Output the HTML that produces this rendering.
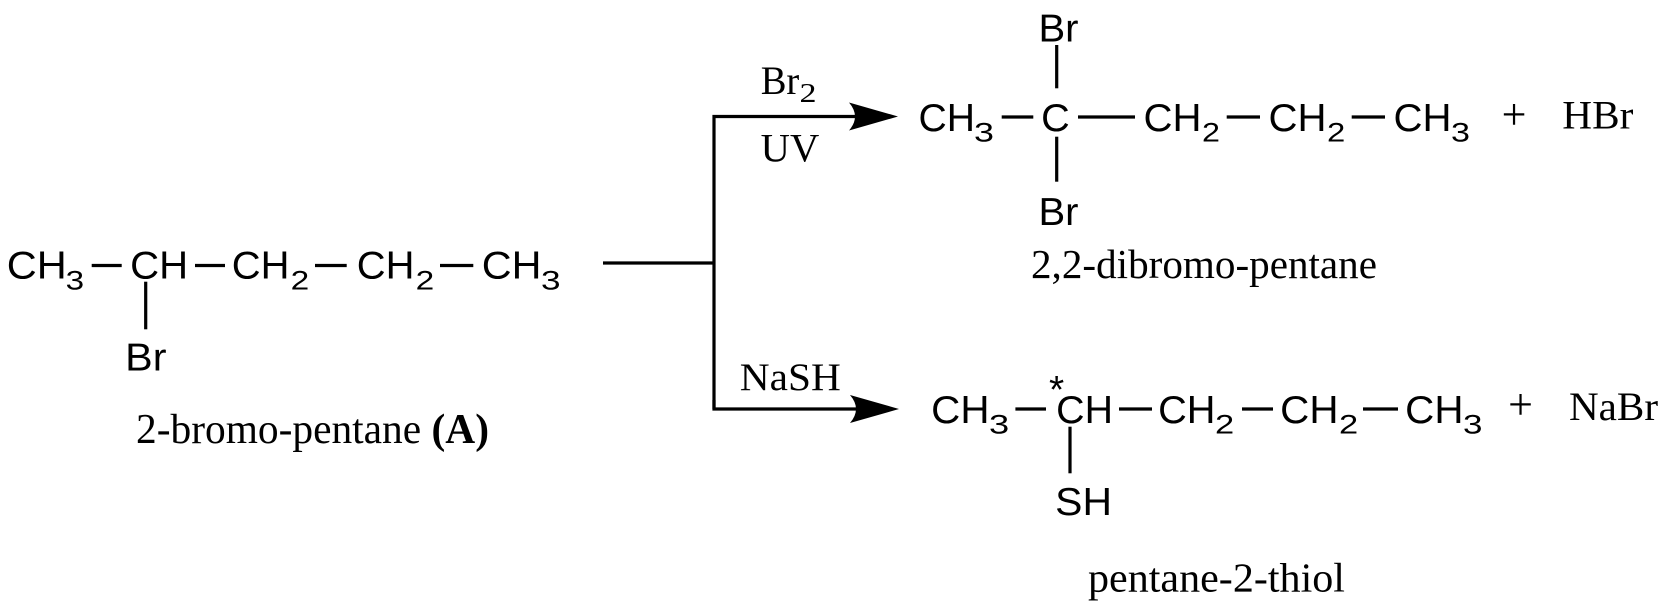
<!DOCTYPE html>
<html>
<head>
<meta charset="utf-8">
<style>
  html,body{margin:0;padding:0;background:#fff;}
  svg{display:block;}
  .s{font-family:"Liberation Sans",Arial,sans-serif;font-size:39px;fill:#000;}
  .sb{font-family:"Liberation Sans",Arial,sans-serif;font-size:27px;fill:#000;}
  .t{font-family:"Liberation Serif","Times New Roman",serif;fill:#000;}
</style>
</head>
<body>
<svg width="1669" height="607" viewBox="0 0 1669 607" xmlns="http://www.w3.org/2000/svg">
  <rect width="1669" height="607" fill="#fff"/>

  <!-- ===== Reactant: 2-bromo-pentane ===== -->
  <g stroke="#000" stroke-width="3.2" fill="none">
    <line x1="91.7" y1="265.5" x2="121.7" y2="265.5"/>
    <line x1="195" y1="265.5" x2="225" y2="265.5"/>
    <line x1="315" y1="265.5" x2="346.7" y2="265.5"/>
    <line x1="440" y1="265.5" x2="473.3" y2="265.5"/>
    <line x1="145.7" y1="281.7" x2="145.7" y2="329.3"/>
  </g>
  <text class="s" x="6.8" y="278.5" textLength="60" lengthAdjust="spacingAndGlyphs">CH</text>
  <text class="sb" x="65.7" y="289.5" textLength="18.5" lengthAdjust="spacingAndGlyphs">3</text>
  <text class="s" x="130.2" y="278.5" textLength="58" lengthAdjust="spacingAndGlyphs">CH</text>
  <text class="s" x="231.8" y="278.5" textLength="57.7" lengthAdjust="spacingAndGlyphs">CH</text>
  <text class="sb" x="290.7" y="289.5" textLength="18.6" lengthAdjust="spacingAndGlyphs">2</text>
  <text class="s" x="356.8" y="278.5" textLength="57.7" lengthAdjust="spacingAndGlyphs">CH</text>
  <text class="sb" x="415.7" y="289.5" textLength="18.6" lengthAdjust="spacingAndGlyphs">2</text>
  <text class="s" x="481.8" y="278.5" textLength="59.7" lengthAdjust="spacingAndGlyphs">CH</text>
  <text class="sb" x="541" y="289.5" textLength="19.6" lengthAdjust="spacingAndGlyphs">3</text>
  <text class="s" x="125.2" y="370.5" textLength="41.3" lengthAdjust="spacingAndGlyphs">Br</text>

  <text class="t" x="136" y="443" font-size="42" textLength="353" lengthAdjust="spacingAndGlyphs">2-bromo-pentane <tspan font-weight="bold">(A)</tspan></text>

  <!-- ===== Connectors / arrows ===== -->
  <g stroke="#000" stroke-width="3.2" fill="none" stroke-linejoin="miter" stroke-linecap="butt">
    <line x1="603" y1="263" x2="714" y2="263"/>
    <path d="M714,409 L714,116.5 L856,116.5"/>
    <path d="M714,400 L714,409 L856,409"/>
  </g>
  <path d="M898,116.5 L849,102.5 Q861,116.5 849,130.5 Z" fill="#000"/>
  <path d="M899,409 L850,395 Q862,409 850,423 Z" fill="#000"/>

  <!-- reagents -->
  <text class="t" x="760.7" y="94" font-size="40" textLength="38.6" lengthAdjust="spacingAndGlyphs">Br</text>
  <text class="t" x="799.5" y="102" font-size="27" textLength="17" lengthAdjust="spacingAndGlyphs">2</text>
  <text class="t" x="760.7" y="161.7" font-size="40" textLength="58.6" lengthAdjust="spacingAndGlyphs">UV</text>
  <text class="t" x="739.8" y="390" font-size="39" textLength="101" lengthAdjust="spacingAndGlyphs">NaSH</text>

  <!-- ===== Top product: 2,2-dibromo-pentane ===== -->
  <g stroke="#000" stroke-width="3.2" fill="none">
    <line x1="1001.7" y1="117" x2="1033.3" y2="117"/>
    <line x1="1078" y1="117" x2="1135" y2="117"/>
    <line x1="1226.7" y1="117" x2="1260" y2="117"/>
    <line x1="1351.7" y1="117" x2="1385" y2="117"/>
    <line x1="1056.7" y1="45" x2="1056.7" y2="88.3"/>
    <line x1="1056.7" y1="136.7" x2="1056.7" y2="181.7"/>
  </g>
  <text class="s" x="918.5" y="131" textLength="56.5" lengthAdjust="spacingAndGlyphs">CH</text>
  <text class="sb" x="974" y="141.5" textLength="20" lengthAdjust="spacingAndGlyphs">3</text>
  <text class="s" x="1041.2" y="131" textLength="28.6" lengthAdjust="spacingAndGlyphs">C</text>
  <text class="s" x="1143.5" y="131" textLength="58" lengthAdjust="spacingAndGlyphs">CH</text>
  <text class="sb" x="1202" y="141.5" textLength="18" lengthAdjust="spacingAndGlyphs">2</text>
  <text class="s" x="1268.5" y="131" textLength="58" lengthAdjust="spacingAndGlyphs">CH</text>
  <text class="sb" x="1327" y="141.5" textLength="18.3" lengthAdjust="spacingAndGlyphs">2</text>
  <text class="s" x="1393.5" y="131" textLength="58" lengthAdjust="spacingAndGlyphs">CH</text>
  <text class="sb" x="1451" y="141.5" textLength="19" lengthAdjust="spacingAndGlyphs">3</text>
  <text class="s" x="1038.5" y="41.7" textLength="40" lengthAdjust="spacingAndGlyphs">Br</text>
  <text class="s" x="1038.5" y="225" textLength="40" lengthAdjust="spacingAndGlyphs">Br</text>

  <text class="t" x="1514" y="129" font-size="44" text-anchor="middle">+</text>
  <text class="t" x="1562.3" y="128.3" font-size="40" textLength="71" lengthAdjust="spacingAndGlyphs">HBr</text>

  <text class="t" x="1031" y="278" font-size="41" textLength="346" lengthAdjust="spacingAndGlyphs">2,2-dibromo-pentane</text>

  <!-- ===== Bottom product: pentane-2-thiol ===== -->
  <g stroke="#000" stroke-width="3.2" fill="none">
    <line x1="1015.4" y1="409" x2="1046" y2="409"/>
    <line x1="1119" y1="409" x2="1152" y2="409"/>
    <line x1="1242" y1="409" x2="1273" y2="409"/>
    <line x1="1363" y1="409" x2="1398" y2="409"/>
    <line x1="1070" y1="426.7" x2="1070" y2="473.3"/>
  </g>
  <text class="s" x="931.2" y="423" textLength="58.3" lengthAdjust="spacingAndGlyphs">CH</text>
  <text class="sb" x="989" y="433.5" textLength="20.2" lengthAdjust="spacingAndGlyphs">3</text>
  <text class="s" x="1049" y="403" font-size="34">*</text>
  <text class="s" x="1056.2" y="423" textLength="56.8" lengthAdjust="spacingAndGlyphs">CH</text>
  <text class="s" x="1158.1" y="423" textLength="57.4" lengthAdjust="spacingAndGlyphs">CH</text>
  <text class="sb" x="1215" y="433.5" textLength="19.2" lengthAdjust="spacingAndGlyphs">2</text>
  <text class="s" x="1280.2" y="423" textLength="58.3" lengthAdjust="spacingAndGlyphs">CH</text>
  <text class="sb" x="1339" y="433.5" textLength="19.2" lengthAdjust="spacingAndGlyphs">2</text>
  <text class="s" x="1405.2" y="423" textLength="58.3" lengthAdjust="spacingAndGlyphs">CH</text>
  <text class="sb" x="1463" y="433.5" textLength="19.5" lengthAdjust="spacingAndGlyphs">3</text>
  <text class="s" x="1055.2" y="515" textLength="56.8" lengthAdjust="spacingAndGlyphs">SH</text>

  <text class="t" x="1520.5" y="419" font-size="44" text-anchor="middle">+</text>
  <text class="t" x="1569" y="420" font-size="40" textLength="89" lengthAdjust="spacingAndGlyphs">NaBr</text>

  <text class="t" x="1088" y="591.7" font-size="41" textLength="257" lengthAdjust="spacingAndGlyphs">pentane-2-thiol</text>
</svg>
</body>
</html>
